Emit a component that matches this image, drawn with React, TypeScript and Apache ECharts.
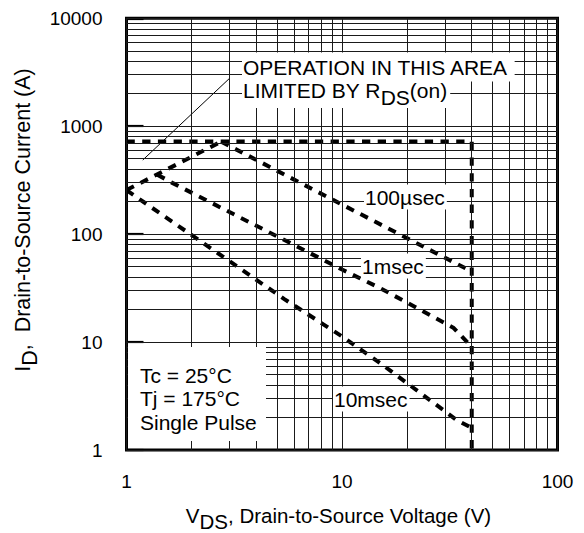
import React, { useEffect, useRef } from 'react';
import * as echarts from 'echarts';

// Axis ranges / tick values
const X_MIN = 1;
const X_MAX = 100;
const Y_MIN = 1;
const Y_MAX = 10000;

// Log grid line positions (decades with 2..9 subdivisions)
const GRID_X = [1, 2, 3, 4, 5, 6, 7, 8, 9, 10, 20, 30, 40, 50, 60, 70, 80, 90, 100];
const GRID_Y = [
  1, 2, 3, 4, 5, 6, 7, 8, 9,
  10, 20, 30, 40, 50, 60, 70, 80, 90,
  100, 200, 300, 400, 500, 600, 700, 800, 900,
  1000, 2000, 3000, 4000, 5000, 6000, 7000, 8000, 9000,
  10000,
];

// Safe operating area curves [V_DS (V), I_D (A)]
const LIMIT_BOX = [[1, 720], [40, 720], [40, 1]];
const RDS_ON_LIMIT = [[1, 256], [2.75, 720]];
const PULSE_100US = [[2.75, 720], [10, 188], [40, 45]];
const PULSE_1MS = [[1.39, 356], [1.64, 297], [6.25, 76], [10, 47], [15, 31.7], [33, 13.5], [40, 9]];
const PULSE_10MS = [[1, 256], [1.43, 156], [2.8, 62], [5.4, 25], [10, 11.3], [15, 6.4], [34, 1.9], [40, 1.6]];
const LEADER_LINE = [[1.19, 486], [3.02, 2800]];

const FONT = "'Liberation Sans', Arial, Helvetica, sans-serif";

export default function App() {
  const ref = useRef<HTMLDivElement>(null);

  useEffect(() => {
    if (!ref.current) return;
    const chart = echarts.init(ref.current, undefined, { renderer: 'svg' });

    const dashStyle = { color: '#000', width: 4, type: [8.3, 7.4] as any };
    const dashed = (name: string, data: number[][]) => ({
      name,
      type: 'line',
      data,
      symbol: 'none',
      showSymbol: false,
      silent: true,
      z: 3,
      lineStyle: dashStyle,
      emphasis: { disabled: true },
    });

    const label = (text: string, x: number, y: number) => ({
      type: 'text',
      z: 100,
      x,
      y,
      style: {
        text,
        fontSize: 21,
        fontFamily: FONT,
        fill: '#000',
        align: 'left',
        verticalAlign: 'middle',
        backgroundColor: '#fff',
        padding: [2, 2, 2, 1],
      },
    });

    const option: any = {
      animation: false,
      backgroundColor: '#fff',
      grid: {
        left: 126.5,
        right: 26.5,
        top: 18.3,
        bottom: 83,
        show: true,
        borderColor: '#000',
        borderWidth: 3,
        backgroundColor: '#fff',
      },
      xAxis: {
        type: 'log',
        logBase: 10,
        min: X_MIN,
        max: X_MAX,
        axisLine: { show: false },
        axisTick: { show: false },
        splitLine: { show: false },
        axisLabel: {
          fontSize: 19,
          fontFamily: FONT,
          color: '#000',
          margin: 22,
          formatter: (v: number) => String(Math.round(v)),
        },
      },
      yAxis: {
        type: 'log',
        logBase: 10,
        min: Y_MIN,
        max: Y_MAX,
        axisLine: { show: false },
        axisTick: { show: true, inside: true, length: 17, lineStyle: { color: '#000', width: 2.2 } },
        splitLine: { show: false },
        axisLabel: {
          fontSize: 19,
          fontFamily: FONT,
          color: '#000',
          margin: 24,
          formatter: (v: number) => String(Math.round(v)),
        },
      },
      series: [
        {
          name: 'grid',
          type: 'line',
          data: [],
          silent: true,
          z: 1,
          markLine: {
            silent: true,
            symbol: ['none', 'none'],
            label: { show: false },
            emphasis: { disabled: true },
            lineStyle: { color: '#1a1a1a', width: 1, type: 'solid' },
            data: [
              ...GRID_X.map((v) => ({ xAxis: v })),
              ...GRID_Y.map((v) => ({ yAxis: v })),
            ],
          },
        },
        dashed('limit', LIMIT_BOX),
        dashed('rds', RDS_ON_LIMIT),
        dashed('100us', PULSE_100US),
        dashed('1ms', PULSE_1MS),
        dashed('10ms', PULSE_10MS),
        {
          name: 'leader',
          type: 'line',
          data: LEADER_LINE,
          symbol: 'none',
          silent: true,
          z: 4,
          lineStyle: { color: '#000', width: 1 },
        },
      ],
      graphic: [
        {
          type: 'rect',
          z: 50,
          shape: { x: 128, y: 347, width: 138, height: 94 },
          style: { fill: '#fff' },
        },
        {
          type: 'text',
          z: 51,
          x: 140,
          y: 363.3,
          style: {
            text: 'Tc = 25°C\nTj = 175°C\nSingle Pulse',
            fontSize: 21,
            fontFamily: FONT,
            lineHeight: 23.5,
            fill: '#000',
            align: 'left',
            verticalAlign: 'top',
          },
        },
        {
          type: 'text',
          z: 100,
          x: 242,
          y: 90,
          style: {
            text: '{m|LIMITED BY R}{s|DS}{m|(on)}',
            fontSize: 21,
            fontFamily: FONT,
            fill: '#000',
            align: 'left',
            verticalAlign: 'middle',
            backgroundColor: '#fff',
            padding: [0, 3, 0, 1],
            rich: {
              m: { fontSize: 21, fontFamily: FONT, lineHeight: 36, fill: '#000' },
              s: { fontSize: 21, fontFamily: FONT, verticalAlign: 'bottom', fill: '#000' },
            },
          },
        },
        {
          type: 'text',
          z: 101,
          x: 242,
          y: 67,
          style: {
            text: 'OPERATION IN THIS AREA',
            fontSize: 21,
            fontFamily: FONT,
            lineHeight: 22,
            fill: '#000',
            align: 'left',
            verticalAlign: 'middle',
            backgroundColor: '#fff',
            padding: [4, 6, 3, 1],
          },
        },
        label('100µsec', 364, 197),
        label('1msec', 361, 266),
        label('10msec', 333, 399),
        {
          type: 'text',
          z: 100,
          x: 338.5,
          y: 515,
          style: {
            text: '{m|V}{s|DS}{m|, Drain-to-Source Voltage (V)}',
            fontSize: 20.5,
            fontFamily: FONT,
            fill: '#000',
            align: 'center',
            verticalAlign: 'middle',
            rich: {
              m: { fontSize: 20.5, fontFamily: FONT, lineHeight: 33, fill: '#000' },
              s: { fontSize: 20.5, fontFamily: FONT, verticalAlign: 'bottom', fill: '#000' },
            },
          },
        },
        {
          type: 'text',
          z: 100,
          x: 23,
          y: 220,
          rotation: Math.PI / 2,
          style: {
            text: '{m|I}{s|D}{m|,  Drain-to-Source Current (A)}',
            fontSize: 21.5,
            fontFamily: FONT,
            fill: '#000',
            align: 'center',
            verticalAlign: 'middle',
            rich: {
              m: { fontSize: 21.5, fontFamily: FONT, lineHeight: 36, fill: '#000' },
              s: { fontSize: 21.5, fontFamily: FONT, verticalAlign: 'bottom', fill: '#000' },
            },
          },
        },
      ],
    };

    chart.setOption(option);
    return () => chart.dispose();
  }, []);

  return (
    <div
      ref={ref}
      style={{ position: 'absolute', left: 0, top: 0, width: 584, height: 533, background: '#fff' }}
    />
  );
}
